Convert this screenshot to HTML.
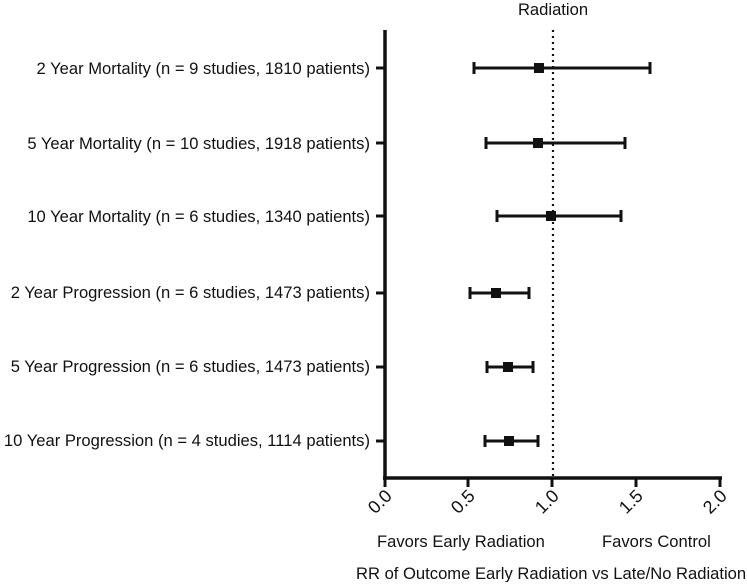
<!DOCTYPE html>
<html><head><style>body{margin:0;background:#fff}</style></head><body>
<svg width="747" height="582" xmlns="http://www.w3.org/2000/svg" font-family="Liberation Sans, Arial, sans-serif" font-size="16.6" fill="#111">
<text x="553" y="15" text-anchor="middle">Radiation</text>
<line x1="553" y1="30" x2="553" y2="478" stroke="#111" stroke-width="2.2" stroke-dasharray="2,4"/>
<line x1="385" y1="30" x2="385" y2="480" stroke="#111" stroke-width="3.5"/>
<line x1="383" y1="478" x2="722" y2="478" stroke="#111" stroke-width="3.5"/>
<g stroke="#111" stroke-width="3">
<line x1="385" y1="478" x2="385" y2="487"/><line x1="468" y1="478" x2="468" y2="487"/><line x1="552" y1="478" x2="552" y2="487"/><line x1="636" y1="478" x2="636" y2="487"/><line x1="720" y1="478" x2="720" y2="487"/>
</g>
<g font-size="18">
<text transform="translate(393,497) rotate(-45)" text-anchor="end">0.0</text>
<text transform="translate(476,497) rotate(-45)" text-anchor="end">0.5</text>
<text transform="translate(560,497) rotate(-45)" text-anchor="end">1.0</text>
<text transform="translate(644,497) rotate(-45)" text-anchor="end">1.5</text>
<text transform="translate(728,497) rotate(-45)" text-anchor="end">2.0</text>
</g>
<text x="377" y="547">Favors Early Radiation</text>
<text x="602" y="547">Favors Control</text>
<text x="356" y="579">RR of Outcome Early Radiation vs Late/No Radiation</text>
<g text-anchor="end">
<text x="370" y="74">2 Year Mortality (n = 9 studies, 1810 patients)</text>
<text x="370" y="149">5 Year Mortality (n = 10 studies, 1918 patients)</text>
<text x="370" y="222">10 Year Mortality (n = 6 studies, 1340 patients)</text>
<text x="370" y="298">2 Year Progression (n = 6 studies, 1473 patients)</text>
<text x="370" y="372">5 Year Progression (n = 6 studies, 1473 patients)</text>
<text x="370" y="446">10 Year Progression (n = 4 studies, 1114 patients)</text>
</g>
<g stroke="#111" stroke-width="3">
<line x1="376" y1="68" x2="385" y2="68"/><line x1="376" y1="143" x2="385" y2="143"/><line x1="376" y1="216" x2="385" y2="216"/><line x1="376" y1="293" x2="385" y2="293"/><line x1="376" y1="367" x2="385" y2="367"/><line x1="376" y1="441" x2="385" y2="441"/>
</g>
<g stroke="#111" stroke-width="3">
<line x1="474" y1="68" x2="650" y2="68"/><line x1="474" y1="62" x2="474" y2="74"/><line x1="650" y1="62" x2="650" y2="74"/>
<line x1="486" y1="143" x2="625" y2="143"/><line x1="486" y1="137" x2="486" y2="149"/><line x1="625" y1="137" x2="625" y2="149"/>
<line x1="497" y1="216" x2="621" y2="216"/><line x1="497" y1="210" x2="497" y2="222"/><line x1="621" y1="210" x2="621" y2="222"/>
<line x1="470" y1="293" x2="529" y2="293"/><line x1="470" y1="287" x2="470" y2="299"/><line x1="529" y1="287" x2="529" y2="299"/>
<line x1="487" y1="367" x2="533" y2="367"/><line x1="487" y1="361" x2="487" y2="373"/><line x1="533" y1="361" x2="533" y2="373"/>
<line x1="485" y1="441" x2="538" y2="441"/><line x1="485" y1="435" x2="485" y2="447"/><line x1="538" y1="435" x2="538" y2="447"/>
</g>
<g fill="#111">
<rect x="534" y="63" width="10" height="10"/><rect x="533" y="138" width="10" height="10"/><rect x="546" y="211" width="10" height="10"/><rect x="491" y="288" width="10" height="10"/><rect x="503" y="362" width="10" height="10"/><rect x="504" y="436" width="10" height="10"/>
</g>
</svg>
</body></html>
